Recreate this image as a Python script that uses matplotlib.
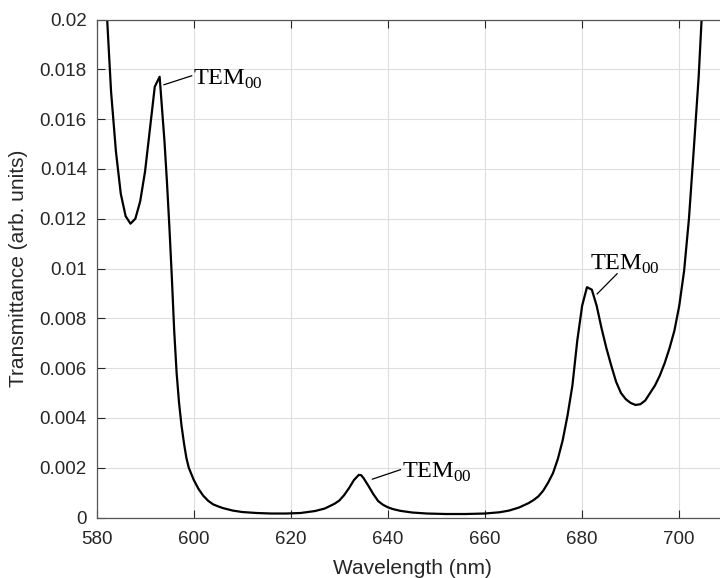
import matplotlib
matplotlib.use("Agg")
import matplotlib.pyplot as plt

wavelength = [582, 583, 584, 585, 586, 587, 588, 589, 590, 591, 592, 593, 594, 594.5, 595,
              595.5, 596, 596.5, 597, 597.5, 598, 598.5, 599, 600, 601, 602, 603, 604,
              605, 606, 608, 610, 613, 616, 619, 622, 625, 627, 629, 630, 631, 632,
              633, 634, 634.5, 635, 636, 637, 638, 639, 640, 641, 642.5, 645, 648,
              652, 656, 660, 663, 665, 667, 669, 670, 671, 672, 673, 674, 675, 676,
              677, 678, 679, 680, 681, 682, 683, 684, 685, 686, 687, 688, 689, 690,
              691, 692, 693, 694, 695, 696, 697, 698, 699, 700, 701, 702, 703, 704, 705]
transmittance = [0.0207, 0.0171, 0.0147, 0.0130, 0.0121, 0.0118, 0.0120, 0.0127, 0.0139,
                 0.0156, 0.0173, 0.0177, 0.0151, 0.0135, 0.0117,
                 0.0097, 0.0075, 0.0058, 0.0046, 0.0037, 0.0030, 0.0024, 0.0020, 0.00152,
                 0.00115, 0.00087, 0.00067, 0.00053,
                 0.00045, 0.00038, 0.00028, 0.00022, 0.00018, 0.00016, 0.00016, 0.00018,
                 0.00026, 0.00036, 0.00055, 0.00068, 0.0009, 0.00118,
                 0.0015, 0.00171, 0.0017, 0.00158, 0.00127, 0.00094, 0.00066, 0.00051,
                 0.00041, 0.00034, 0.00027, 0.0002, 0.00016,
                 0.00014, 0.00014, 0.00016, 0.00021, 0.00028, 0.0004, 0.00058, 0.0007,
                 0.00085, 0.00108, 0.0014, 0.00178, 0.00235, 0.0031,
                 0.0041, 0.0053, 0.0071, 0.0085, 0.00925, 0.00915, 0.0085, 0.0076, 0.0068,
                 0.0061, 0.00545, 0.0050, 0.00475, 0.0046,
                 0.00452, 0.00455, 0.0047, 0.0050, 0.0053, 0.0057, 0.0062, 0.0068, 0.0075,
                 0.0085, 0.0099, 0.0120, 0.0148, 0.0177, 0.0215]

x_ticks = [580, 600, 620, 640, 660, 680, 700]
y_ticks = [0, 0.002, 0.004, 0.006, 0.008, 0.01, 0.012, 0.014, 0.016, 0.018, 0.02]
y_tick_labels = ["0", "0.002", "0.004", "0.006", "0.008", "0.01", "0.012", "0.014",
                 "0.016", "0.018", "0.02"]

# annotations: (peak point, text anchor point, text baseline)
ann_label = r"TEM$_{\mathregular{00}}$"
ann_line_start = [(593.9, 0.01738), (636.8, 0.00154), (683.1, 0.00898)]
ann_line_end = [(599.6, 0.01774), (642.6, 0.00192), (687.2, 0.00979)]
ann_text_pos = [(599.85, 0.01737), (642.85, 0.00161), (681.6, 0.00996)]

plt.rcParams["mathtext.fontset"] = "custom"
plt.rcParams["mathtext.rm"] = "Liberation Serif"
plt.rcParams["font.family"] = ["Liberation Sans", "DejaVu Sans"]

fig = plt.figure(figsize=(7.2, 5.78), dpi=100)
ax = fig.add_axes([96.5 / 720, 60.5 / 578, 631.3 / 720, 498 / 578])

gray = "#262626"
ax.plot(wavelength, transmittance, color="black", lw=1.6, clip_on=True)

for (x0, y0), (x1, y1), (tx, ty) in zip(ann_line_start, ann_line_end, ann_text_pos):
    ax.plot([x0, x1], [y0, y1], color="black", lw=0.9)
    ax.text(tx, ty, ann_label, family="Liberation Serif", fontsize=17.5,
            ha="left", va="baseline", color="black")

ax.set_xlim(580, 710)
ax.set_ylim(0, 0.02)
ax.set_xticks(x_ticks)
ax.set_xticklabels([str(t) for t in x_ticks])
ax.set_yticks(y_ticks)
ax.set_yticklabels(y_tick_labels)
ax.grid(True, color="#dedede", lw=0.8)
ax.set_axisbelow(True)
ax.tick_params(direction="in", length=6, width=0.8, color=gray, labelcolor=gray,
               labelsize=13.5, top=True, right=True)
ax.tick_params(axis="x", pad=10)
ax.tick_params(axis="y", pad=7)
for s in ax.spines.values():
    s.set_color("#555555")
    s.set_linewidth(0.9)

ax.set_xlabel("Wavelength (nm)", fontsize=15, color=gray, labelpad=8)
ax.set_ylabel("Transmittance (arb. units)", fontsize=15, color=gray, labelpad=8)

fig.savefig("out.png", dpi=100)
